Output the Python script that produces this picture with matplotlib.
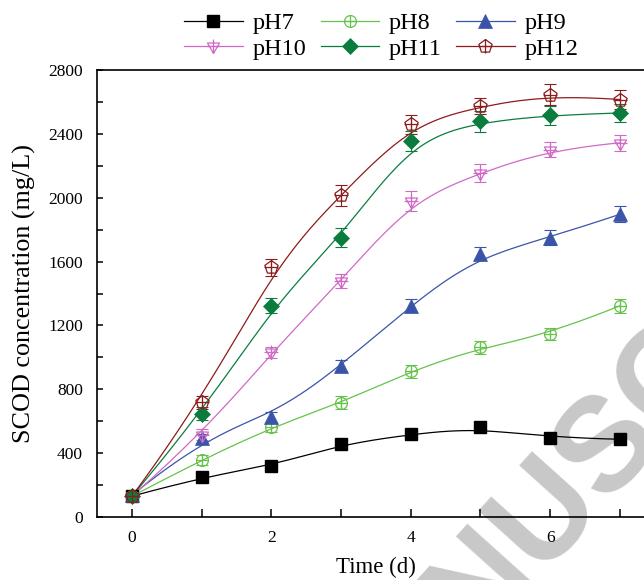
import numpy as np
import matplotlib
matplotlib.use('Agg')
import matplotlib.pyplot as plt
from matplotlib.path import Path
from matplotlib.lines import Line2D

# data
days = [0, 1, 2, 3, 4, 5, 6, 7]
labels = ['pH7', 'pH8', 'pH9', 'pH10', 'pH11', 'pH12']
ph7 = [130, 250, 318, 455, 517, 563, 497, 487]
ph8 = [130, 358, 563, 715, 913, 1063, 1146, 1323]
ph9 = [135, 492, 625, 948, 1323, 1650, 1750, 1896]
ph10 = [130, 515, 1031, 1479, 1979, 2156, 2302, 2344]
ph11 = [130, 646, 1323, 1750, 2354, 2479, 2517, 2531]
ph12 = [130, 719, 1563, 2015, 2459, 2573, 2646, 2615]
err7 = [10, 15, 20, 20, 20, 20, 20, 20]
err8 = [20, 30, 30, 40, 40, 40, 40, 42]
err9 = [20, 30, 35, 35, 40, 40, 45, 50]
err10 = [20, 35, 36, 44, 62, 55, 50, 50]
err11 = [20, 40, 48, 60, 62, 67, 60, 56]
err12 = [20, 40, 52, 65, 60, 50, 65, 60]

series = [ph7, ph8, ph9, ph10, ph11, ph12]
errors = [err7, err8, err9, err10, err11, err12]
colors = ['#000000', '#66C34A', '#3A55A8', '#D06AC6', '#0A7D3E', '#8E1B1B']


def cross(p):
    # add a plus sign inside a marker outline
    plus = Path([[-1, 0], [1, 0], [0, -1], [0, 1]],
                [Path.MOVETO, Path.LINETO, Path.MOVETO, Path.LINETO])
    return Path.make_compound_path(p, plus)


circ_plus = cross(Path.unit_circle())
tri = Path.unit_regular_polygon(3)
tri_down = Path(-tri.vertices, tri.codes)
tri_plus = cross(tri_down)
pent_plus = cross(Path.unit_regular_polygon(5))

styles = [
    dict(marker='s', ms=8, mfc='#000000', mec='#000000'),
    dict(marker=circ_plus, ms=8.5, mfc='none', mew=0.9),
    dict(marker='^', ms=9.5, mew=0.5),
    dict(marker=tri_plus, ms=10, mfc='none', mew=0.9),
    dict(marker='D', ms=8, mew=0.5),
    dict(marker=pent_plus, ms=10, mfc='none', mew=0.9),
]


def bspline(x, y, n=300, k=3):
    # clamped cubic B-spline through the data as control points (Origin style)
    P = np.column_stack([x, y]).astype(float)
    m = len(P)
    knots = np.concatenate([np.zeros(k), np.linspace(0, 1, m - k + 1), np.ones(k)])
    t = np.linspace(0, 1, n)
    t[-1] -= 1e-9

    def basis(i, p):
        if p == 0:
            return ((knots[i] <= t) & (t < knots[i + 1])).astype(float)
        out = np.zeros_like(t)
        d1 = knots[i + p] - knots[i]
        d2 = knots[i + p + 1] - knots[i + 1]
        if d1 > 0:
            out += (t - knots[i]) / d1 * basis(i, p - 1)
        if d2 > 0:
            out += (knots[i + p + 1] - t) / d2 * basis(i + 1, p - 1)
        return out

    B = np.array([basis(i, k) for i in range(m)])
    C = B.T @ P
    return C[:, 0], C[:, 1]


plt.rcParams['font.family'] = ['Liberation Serif', 'DejaVu Serif']
plt.rcParams['mathtext.fontset'] = 'stix'

fig = plt.figure(figsize=(6.44, 5.8), dpi=100)
ax = fig.add_axes([0.1506, 0.1086, 0.866, 0.7707])
ax.patch.set_visible(False)

# watermark behind the axes
fig.text(0.523, -0.375, 'MANUSCRIPT', fontsize=96, fontweight='bold',
         family='Liberation Sans', color='#C8C8C8', rotation=48,
         rotation_mode='anchor', ha='left', va='baseline', zorder=-5)

handles = []
for vals, err, c, st, lab in zip(series, errors, colors, styles, labels):
    xs, ys = bspline(days, vals)
    ax.plot(xs, ys, color=c, lw=0.9, zorder=2)
    ax.errorbar(days, vals, yerr=err, fmt='none', ecolor=c, elinewidth=0.8,
                capsize=4, capthick=0.8, zorder=3)
    st = dict(st)
    st.setdefault('mfc', c)
    st.setdefault('mec', c)
    ax.plot(days, vals, ls='none', color=c, zorder=4, **st)
    handles.append(Line2D([], [], color=c, lw=0.9, **st))

ax.set_xlim(-0.5, 7.5)
ax.set_ylim(0, 2800)
ax.set_xticks([0, 2, 4, 6])
ax.set_xticks([1, 3, 5, 7], minor=True)
ax.set_yticks(np.arange(0, 2801, 400))
ax.set_yticks(np.arange(200, 2800, 400), minor=True)
ax.tick_params(axis='x', which='both', direction='in', length=6, width=1.1,
               labelsize=12.5, pad=9)
ax.tick_params(axis='y', which='both', direction='in', length=4, width=1.1,
               labelsize=12.5, pad=10)
ax.tick_params(top=False, right=False)
for sp in ax.spines.values():
    sp.set_linewidth(1.2)
ax.spines['right'].set_visible(False)

ax.set_xlabel('Time (d)', fontsize=16.5, labelpad=8)
ax.set_ylabel('SCOD concentration (mg/L)', fontsize=18.8, labelpad=9)

order = [0, 3, 1, 4, 2, 5]
fig.legend([handles[i] for i in order], [labels[i] for i in order],
           ncol=3, loc='center', bbox_to_anchor=(0.592, 0.938), frameon=False,
           fontsize=17.5, handlelength=2.4, handletextpad=0.4,
           columnspacing=0.6, labelspacing=0.15, borderpad=0)

fig.savefig('out.png', dpi=100)
